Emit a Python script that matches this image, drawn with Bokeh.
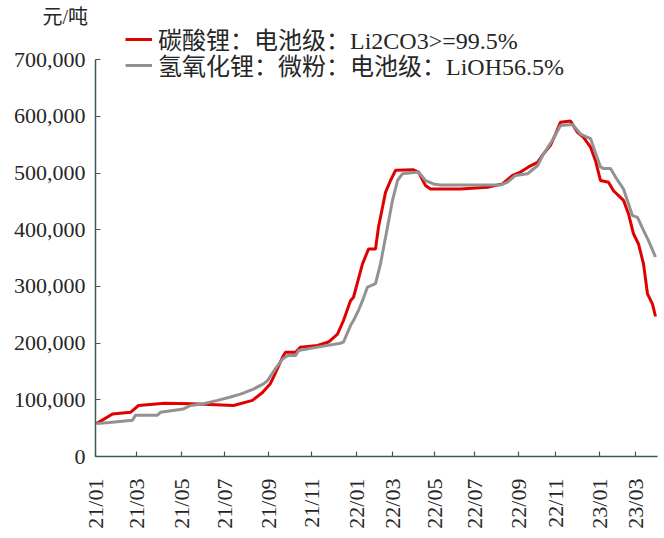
import math
import numpy as np
from bokeh.plotting import figure
from bokeh.models import (Range1d, FixedTicker, NumeralTickFormatter, Legend,
                          LegendItem, ColumnDataSource)
from bokeh.embed import file_html
from bokeh.resources import INLINE

# ---------------- data ----------------
li2co3_dates = ["2021-01-04", "2021-01-26", "2021-02-19", "2021-03-03", "2021-04-08", "2021-05-17",
                "2021-07-14", "2021-08-10", "2021-08-24", "2021-09-03", "2021-09-08", "2021-09-21",
                "2021-09-24", "2021-10-08", "2021-10-15", "2021-11-09", "2021-11-24", "2021-12-07",
                "2021-12-15", "2021-12-24", "2021-12-29", "2022-01-11", "2022-01-19", "2022-01-28",
                "2022-02-09", "2022-02-18", "2022-02-25", "2022-03-04", "2022-03-30", "2022-04-08",
                "2022-04-19", "2022-04-26", "2022-06-13", "2022-07-20", "2022-08-10", "2022-08-24",
                "2022-09-05", "2022-09-16", "2022-09-29", "2022-10-14", "2022-10-25", "2022-11-01",
                "2022-11-08", "2022-11-22", "2022-12-01", "2022-12-09", "2022-12-20", "2022-12-27",
                "2023-01-04", "2023-01-16", "2023-01-30", "2023-02-13", "2023-02-20", "2023-02-27",
                "2023-03-06", "2023-03-13", "2023-03-17", "2023-03-24", "2023-03-29"]
li2co3_vals = [58000, 75000, 78000, 90000, 94000, 93000,
               90000, 99000, 113000, 129000, 140000, 175000,
               184000, 184000, 193000, 196000, 202000, 216000,
               240000, 275000, 281000, 340000, 366000, 366000,
               405000, 466000, 487000, 505000, 506000, 502000,
               478000, 472000, 472000, 475000, 481000, 496000,
               502000, 511000, 519000, 534000, 549000, 569000,
               590000, 592000, 572000, 563000, 546000, 522000,
               487000, 484000, 469000, 452000, 428000, 393000,
               375000, 340000, 287000, 269000, 247000]

lioh_dates = ["2021-01-04", "2021-01-21", "2021-02-23", "2021-02-26", "2021-03-30", "2021-04-02",
              "2021-05-05", "2021-05-14", "2021-06-02", "2021-06-22", "2021-07-09", "2021-07-23",
              "2021-08-11", "2021-08-25", "2021-08-31", "2021-09-10", "2021-09-21", "2021-09-28",
              "2021-10-08", "2021-10-13", "2021-11-09", "2021-12-10", "2021-12-15", "2021-12-24",
              "2021-12-29", "2022-01-05", "2022-01-11", "2022-01-18", "2022-01-28", "2022-02-11",
              "2022-02-22", "2022-03-01", "2022-03-08", "2022-03-15", "2022-04-08", "2022-04-19",
              "2022-04-29", "2022-05-13", "2022-08-08", "2022-08-17", "2022-08-29", "2022-09-15",
              "2022-09-29", "2022-10-14", "2022-10-27", "2022-11-08", "2022-11-24", "2022-12-06",
              "2022-12-20", "2023-01-04", "2023-01-09", "2023-01-18", "2023-02-01", "2023-02-13",
              "2023-02-24", "2023-03-03", "2023-03-13", "2023-03-20", "2023-03-29"]
lioh_vals = [58000, 60000, 64000, 73000, 73000, 78000,
             84000, 90000, 93000, 99000, 105000, 110000,
             119000, 128000, 134000, 155000, 172000, 178000,
             178000, 187000, 193000, 200000, 202000, 231000,
             240000, 258000, 275000, 299000, 305000, 340000,
             405000, 452000, 487000, 499000, 502000, 487000,
             481000, 479000, 479000, 484000, 496000, 499000,
             513000, 534000, 558000, 584000, 586000, 569000,
             561000, 511000, 508000, 508000, 493000, 472000,
             425000, 422000, 399000, 381000, 352000]

tick_labels = ["21/01", "21/03", "21/05", "21/07", "21/09", "21/11", "22/01",
               "22/03", "22/05", "22/07", "22/09", "22/11", "23/01", "23/03"]
y_ticks = [0, 100000, 200000, 300000, 400000, 500000, 600000, 700000]
y_max = 700000

series_names = ["碳酸锂：电池级：Li2CO3>=99.5%", "氢氧化锂：微粉：电池级：LiOH56.5%"]
unit_label = "元/吨"

# exchange closures (trading-day axis)
holidays = ["2022-01-31", "2022-02-01", "2022-02-02", "2022-02-03", "2022-02-04",
            "2022-04-04", "2022-04-05", "2022-05-02", "2022-05-03", "2022-05-04",
            "2022-06-03", "2022-09-12", "2022-10-03", "2022-10-04", "2022-10-05",
            "2022-10-06", "2022-10-07", "2023-01-02", "2023-01-23", "2023-01-24",
            "2023-01-25", "2023-01-26", "2023-01-27"]
axis_start = "2021-01-01"
axis_end = "2023-03-31"


def obs_index(dates):
    d = np.array(dates, dtype="datetime64[D]")
    return np.busday_count(np.datetime64(axis_start), d, holidays=holidays)


tick_dates = ["20" + t[:2] + "-" + t[3:] + "-01" for t in tick_labels]
tick_idx = [int(v) for v in obs_index(tick_dates)]

# ---------------- layout ----------------
SERIF = "Liberation Serif, Noto Sans CJK SC"
AXIS_COLOR = "#3b5a5a"
TEXT_COLOR = "#262626"
FRAME_TOP = 26        # canvas px of the frame top
ZERO_PX = 456         # canvas px of value 0
MAX_PX = 59.3         # canvas px of y_max
y_end = y_max * (ZERO_PX - FRAME_TOP) / (ZERO_PX - MAX_PX)

p = figure(width=658, height=532, output_backend="svg", toolbar_location=None,
           title=unit_label,
           x_range=Range1d(0, int(obs_index([axis_end])[0])),
           y_range=Range1d(0, y_end),
           min_border_left=95, min_border_right=1, min_border_top=FRAME_TOP,
           min_border_bottom=532 - ZERO_PX)
p.outline_line_color = None
p.xgrid.visible = False
p.ygrid.visible = False

p.title.align = "left"
p.title.offset = -53
p.title.standoff = -3
p.title.text_font = SERIF
p.title.text_font_size = "20px"
p.title.text_font_style = "normal"
p.title.text_color = TEXT_COLOR

src_a = ColumnDataSource(dict(x=obs_index(li2co3_dates), y=li2co3_vals))
src_b = ColumnDataSource(dict(x=obs_index(lioh_dates), y=lioh_vals))
ra = p.line("x", "y", source=src_a, line_color="#e00000", line_width=3)
rb = p.line("x", "y", source=src_b, line_color="#929292", line_width=3)

# axes
for ax in (p.xaxis[0], p.yaxis[0]):
    ax.axis_line_color = AXIS_COLOR
    ax.axis_line_width = 1.5
    ax.major_tick_line_color = AXIS_COLOR
    ax.major_tick_line_width = 1.2
    ax.major_tick_in = 5
    ax.major_tick_out = 0
    ax.minor_tick_line_color = None
    ax.major_label_text_font = "Liberation Serif"
    ax.major_label_text_font_size = "22px"
    ax.major_label_text_color = TEXT_COLOR

p.xaxis.ticker = FixedTicker(ticks=tick_idx, minor_ticks=[])
p.xaxis.major_label_overrides = {i: lab for i, lab in zip(tick_idx, tick_labels)}
p.xaxis.major_label_orientation = math.pi / 2
p.xaxis.major_label_standoff = 22

p.yaxis.ticker = FixedTicker(ticks=y_ticks, minor_ticks=[])
p.yaxis.formatter = NumeralTickFormatter(format="0,0")
p.yaxis.major_label_standoff = 10
p.yaxis.bounds = (0, y_max)

# one single-item legend per series so the row pitch can match the reference
for name, rend, loc_y in ((series_names[0], ra, 400), (series_names[1], rb, 374)):
    lg = Legend(items=[LegendItem(label=name, renderers=[rend])],
                location=(30, loc_y), orientation="vertical",
                margin=0, padding=0, spacing=0,
                glyph_width=27, glyph_height=26, label_height=26, label_standoff=6,
                label_text_font=SERIF, label_text_font_size="24px",
                label_text_color=TEXT_COLOR,
                border_line_color=None, background_fill_alpha=0)
    p.add_layout(lg, "center")

open("out.html", "w").write(file_html(p, INLINE))
